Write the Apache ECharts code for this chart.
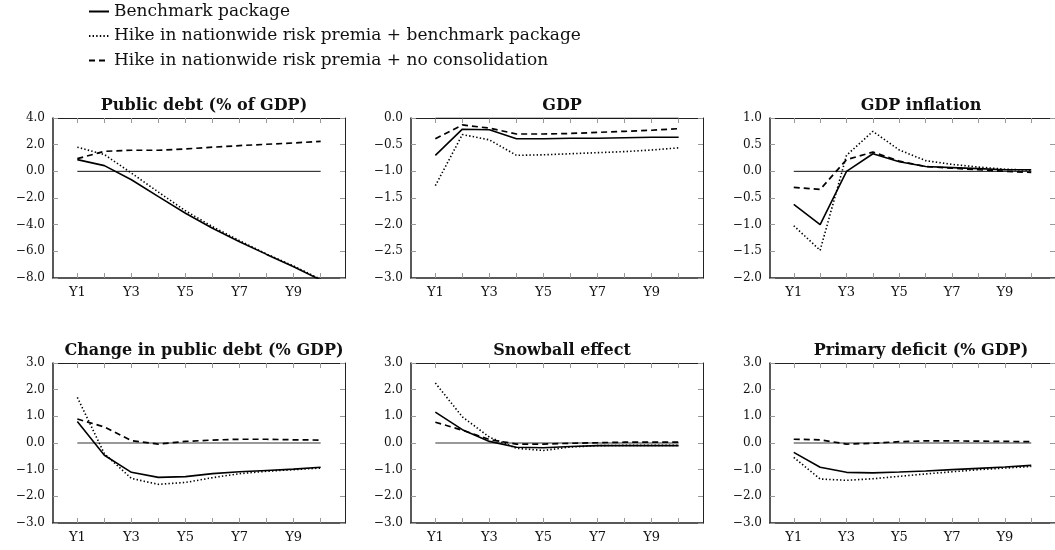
<!DOCTYPE html>
<html>
<head>
<meta charset="utf-8">
<script src="https://cdn.jsdelivr.net/npm/echarts@6/dist/echarts.min.js"></script>
<style>
html, body { margin: 0; padding: 0; background: #fff; }
#chart { width: 1055px; height: 550px; }
</style>
</head>
<body>
<div id="chart"></div>
<script>
// Horizon labels
const years = ['Y1', 'Y2', 'Y3', 'Y4', 'Y5', 'Y6', 'Y7', 'Y8', 'Y9', 'Y10'];
const labelYears = [1, 3, 5, 7, 9];

// Scenario names
const scenarioNames = [
  'Benchmark package',
  'Hike in nationwide risk premia + benchmark package',
  'Hike in nationwide risk premia + no consolidation'
];

// Public debt (% of GDP)
const debtBench     = [0.88, 0.43, -0.63, -1.90, -3.14, -4.27, -5.28, -6.23, -7.16, -8.15];
const debtRiskBench = [1.81, 1.26, -0.13, -1.56, -2.96, -4.15, -5.20, -6.20, -7.10, -8.10];
const debtRiskNone  = [0.95, 1.50, 1.58, 1.58, 1.68, 1.81, 1.93, 2.03, 2.13, 2.24];

// GDP
const gdpBench     = [-0.70, -0.21, -0.22, -0.39, -0.39, -0.38, -0.38, -0.37, -0.36, -0.36];
const gdpRiskBench = [-1.27, -0.31, -0.41, -0.70, -0.69, -0.67, -0.65, -0.63, -0.60, -0.56];
const gdpRiskNone  = [-0.39, -0.13, -0.19, -0.30, -0.30, -0.29, -0.27, -0.25, -0.23, -0.20];

// GDP inflation
const inflBench     = [-0.62, -1.00, 0.00, 0.33, 0.18, 0.09, 0.07, 0.05, 0.03, 0.03];
const inflRiskBench = [-1.02, -1.48, 0.30, 0.75, 0.40, 0.20, 0.13, 0.08, 0.04, 0.02];
const inflRiskNone  = [-0.30, -0.34, 0.22, 0.36, 0.19, 0.09, 0.06, 0.03, 0.00, -0.02];

// Change in public debt (% GDP)
const chgBench     = [0.81, -0.46, -1.10, -1.29, -1.26, -1.15, -1.08, -1.03, -0.98, -0.91];
const chgRiskBench = [1.71, -0.40, -1.33, -1.55, -1.48, -1.30, -1.15, -1.06, -1.00, -0.94];
const chgRiskNone  = [0.90, 0.60, 0.09, -0.04, 0.06, 0.11, 0.14, 0.14, 0.12, 0.11];

// Snowball effect
const snowBench     = [1.16, 0.50, 0.06, -0.16, -0.18, -0.13, -0.10, -0.10, -0.10, -0.10];
const snowRiskBench = [2.25, 0.98, 0.22, -0.20, -0.28, -0.15, -0.10, -0.09, -0.09, -0.09];
const snowRiskNone  = [0.78, 0.48, 0.13, -0.04, -0.04, -0.01, 0.01, 0.03, 0.03, 0.03];

// Primary deficit (% GDP)
const defBench     = [-0.35, -0.91, -1.10, -1.12, -1.09, -1.05, -1.00, -0.95, -0.90, -0.84];
const defRiskBench = [-0.54, -1.35, -1.40, -1.34, -1.25, -1.16, -1.08, -1.00, -0.94, -0.88];
const defRiskNone  = [0.14, 0.12, -0.04, -0.01, 0.05, 0.08, 0.08, 0.07, 0.06, 0.05];

// Panel set-up
const panelTitles = [
  'Public debt (% of GDP)', 'GDP', 'GDP inflation',
  'Change in public debt (% GDP)', 'Snowball effect', 'Primary deficit (% GDP)'
];
const panelSeries = [
  [debtBench, debtRiskBench, debtRiskNone],
  [gdpBench, gdpRiskBench, gdpRiskNone],
  [inflBench, inflRiskBench, inflRiskNone],
  [chgBench, chgRiskBench, chgRiskNone],
  [snowBench, snowRiskBench, snowRiskNone],
  [defBench, defRiskBench, defRiskNone]
];
const yMin  = [-8, -3, -2, -3, -3, -3];
const yMax  = [4, 0, 1, 3, 3, 3];
const yStep = [2, 0.5, 0.5, 1, 1, 1];

const FONT = 'DejaVu Serif';
const colLeft = [53, 411, 770];
const rowTop = [118, 363];
const boxW = 292, boxH = 160;

const lineStyles = [
  { type: 'solid', width: 1.6 },
  { type: [1.4, 2.2], width: 1.6 },
  { type: [6, 4], width: 1.7 }
];

const fmtNum = v => v.toFixed(1).replace('-', '\u2212');

const grids = [], xAxes = [], yAxes = [], series = [], titles = [];

panelTitles.forEach((title, p) => {
  const left = colLeft[p % 3];
  const top = rowTop[Math.floor(p / 3)];
  grids.push({ left: left, top: top, width: boxW, height: boxH, containLabel: false });
  titles.push({
    text: title, left: left + boxW / 2, top: top - 25, textAlign: 'center',
    textStyle: { fontFamily: FONT, fontSize: 16, fontWeight: 'bold', color: '#111' }
  });
  const tickVals = years.map((_, i) => i + 1);
  // bottom x axis with labels
  xAxes.push({
    type: 'value', gridIndex: p, position: 'bottom', min: 0.1, max: 10.9,
    axisLine: { show: true, onZero: false, lineStyle: { color: '#222', width: 1.5 } },
    axisTick: { show: true, inside: true, length: 5, customValues: tickVals, lineStyle: { color: '#999' } },
    axisLabel: {
      show: true, margin: 8, customValues: labelYears,
      formatter: v => years[Math.round(v) - 1],
      fontFamily: FONT, fontSize: 13, color: '#111'
    },
    splitLine: { show: false }
  });
  // top x axis: frame and ticks only
  xAxes.push({
    type: 'value', gridIndex: p, position: 'top', min: 0.1, max: 10.9,
    axisLine: { show: true, onZero: false, lineStyle: { color: '#222', width: 1 } },
    axisTick: { show: true, inside: true, length: 5, customValues: tickVals, lineStyle: { color: '#999' } },
    axisLabel: { show: false },
    splitLine: { show: false }
  });
  // left y axis with labels
  yAxes.push({
    type: 'value', gridIndex: p, position: 'left', min: yMin[p], max: yMax[p], interval: yStep[p],
    axisLine: { show: true, onZero: false, lineStyle: { color: '#222', width: 1.5 } },
    axisTick: { show: true, inside: true, length: 5, lineStyle: { color: '#999' } },
    axisLabel: { show: true, margin: 8, formatter: fmtNum, fontFamily: FONT, fontSize: 12, color: '#111' },
    splitLine: { show: false }
  });
  // right y axis: frame and ticks only
  yAxes.push({
    type: 'value', gridIndex: p, position: 'right', min: yMin[p], max: yMax[p], interval: yStep[p],
    axisLine: { show: true, onZero: false, lineStyle: { color: '#222', width: 1 } },
    axisTick: { show: true, inside: true, length: 5, lineStyle: { color: '#999' } },
    axisLabel: { show: false },
    splitLine: { show: false }
  });

  const xi = p * 2, yi = p * 2;
  // zero reference line
  series.push({
    type: 'line', name: 'zero', xAxisIndex: xi, yAxisIndex: yi, silent: true,
    symbol: 'none', data: [[1, 0], [10, 0]],
    lineStyle: p < 3 ? { color: '#111', width: 1 } : { color: '#777', width: 1.6 },
    z: 1
  });
  panelSeries[p].forEach((vals, s) => {
    series.push({
      type: 'line', name: scenarioNames[s], xAxisIndex: xi, yAxisIndex: yi,
      symbol: 'none', clip: true,
      data: vals.map((v, i) => [i + 1, v]),
      lineStyle: Object.assign({ color: '#000' }, lineStyles[s]),
      itemStyle: { color: '#000' },
      z: 3
    });
  });
});

const chart = echarts.init(document.getElementById('chart'), null, { renderer: 'canvas' });
chart.setOption({
  animation: false,
  backgroundColor: '#fff',
  title: titles,
  legend: {
    data: scenarioNames, orient: 'vertical', left: 88, top: 3, padding: 0,
    itemWidth: 20, itemHeight: 12, itemGap: 7.5,
    itemStyle: { color: 'rgba(0,0,0,0)', borderWidth: 0, opacity: 0 },
    textStyle: { fontFamily: FONT, fontSize: 17, color: '#111' }
  },
  grid: grids,
  xAxis: xAxes,
  yAxis: yAxes,
  series: series
});
</script>
</body>
</html>
